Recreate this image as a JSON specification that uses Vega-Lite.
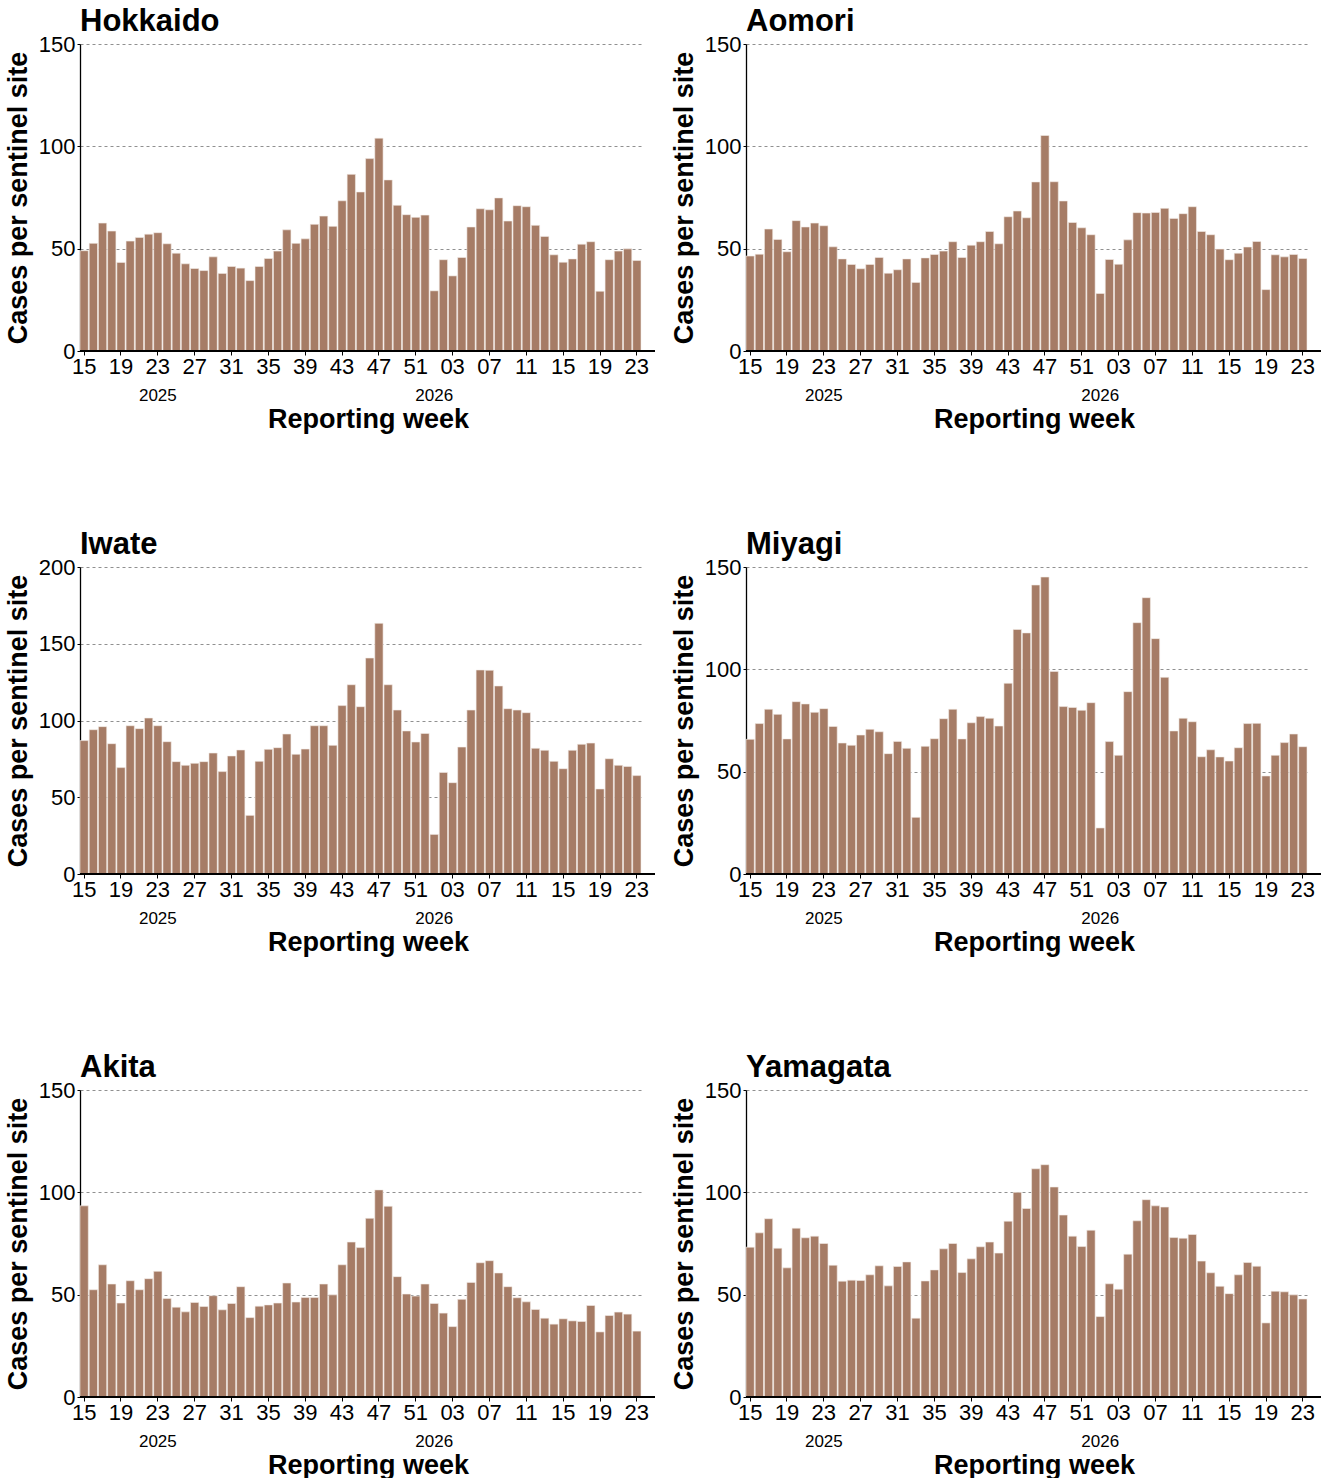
{
  "$schema": "https://vega.github.io/schema/vega-lite/v6.json",
  "background": "white",
  "padding": {"left": 4, "top": 6, "right": 5, "bottom": 0},
  "config": {
    "font": "Liberation Sans",
    "view": {"stroke": null},
    "axis": {"labelColor": "black", "titleColor": "black", "labelFont": "Liberation Sans", "titleFont": "Liberation Sans"},
    "title": {"anchor": "start", "frame": "group", "fontSize": 31, "fontWeight": "bold", "color": "black", "offset": -5, "font": "Liberation Sans"}
  },
  "datasets": {
    "hokkaido": [
      {"w":"2025-15","v":49.0},{"w":"2025-16","v":52.6},{"w":"2025-17","v":62.5},{"w":"2025-18","v":58.6},{"w":"2025-19","v":43.3},{"w":"2025-20","v":53.7},{"w":"2025-21","v":55.5},{"w":"2025-22","v":57.1},{"w":"2025-23","v":57.8},{"w":"2025-24","v":52.4},{"w":"2025-25","v":47.8},{"w":"2025-26","v":42.6},{"w":"2025-27","v":40.3},{"w":"2025-28","v":39.3},{"w":"2025-29","v":46.0},{"w":"2025-30","v":37.9},{"w":"2025-31","v":41.3},{"w":"2025-32","v":40.5},{"w":"2025-33","v":34.4},{"w":"2025-34","v":41.3},{"w":"2025-35","v":45.2},{"w":"2025-36","v":48.8},{"w":"2025-37","v":59.2},{"w":"2025-38","v":52.6},{"w":"2025-39","v":54.8},{"w":"2025-40","v":61.9},{"w":"2025-41","v":65.9},{"w":"2025-42","v":60.9},{"w":"2025-43","v":73.4},{"w":"2025-44","v":86.3},{"w":"2025-45","v":77.7},{"w":"2025-46","v":94.0},{"w":"2025-47","v":104.0},{"w":"2025-48","v":83.6},{"w":"2025-49","v":71.2},{"w":"2025-50","v":66.6},{"w":"2025-51","v":65.3},{"w":"2025-52","v":66.4},
      {"w":"2026-01","v":29.4},{"w":"2026-02","v":44.6},{"w":"2026-03","v":36.7},{"w":"2026-04","v":45.7},{"w":"2026-05","v":60.6},{"w":"2026-06","v":69.5},{"w":"2026-07","v":69.0},{"w":"2026-08","v":74.8},{"w":"2026-09","v":63.5},{"w":"2026-10","v":71.0},{"w":"2026-11","v":70.5},{"w":"2026-12","v":61.4},{"w":"2026-13","v":56.0},{"w":"2026-14","v":47.0},{"w":"2026-15","v":43.4},{"w":"2026-16","v":45.0},{"w":"2026-17","v":52.2},{"w":"2026-18","v":53.4},{"w":"2026-19","v":29.2},{"w":"2026-20","v":44.6},{"w":"2026-21","v":48.8},{"w":"2026-22","v":49.9},{"w":"2026-23","v":44.2}
    ],
    "aomori": [
      {"w":"2025-15","v":46.4},{"w":"2025-16","v":47.3},{"w":"2025-17","v":59.6},{"w":"2025-18","v":54.5},{"w":"2025-19","v":48.5},{"w":"2025-20","v":63.7},{"w":"2025-21","v":60.6},{"w":"2025-22","v":62.5},{"w":"2025-23","v":61.2},{"w":"2025-24","v":50.9},{"w":"2025-25","v":45.0},{"w":"2025-26","v":42.3},{"w":"2025-27","v":40.2},{"w":"2025-28","v":42.3},{"w":"2025-29","v":45.7},{"w":"2025-30","v":38.0},{"w":"2025-31","v":39.7},{"w":"2025-32","v":45.0},{"w":"2025-33","v":33.5},{"w":"2025-34","v":45.5},{"w":"2025-35","v":47.2},{"w":"2025-36","v":48.8},{"w":"2025-37","v":53.4},{"w":"2025-38","v":45.7},{"w":"2025-39","v":51.7},{"w":"2025-40","v":53.4},{"w":"2025-41","v":58.4},{"w":"2025-42","v":52.4},{"w":"2025-43","v":65.6},{"w":"2025-44","v":68.4},{"w":"2025-45","v":65.1},{"w":"2025-46","v":82.6},{"w":"2025-47","v":105.3},{"w":"2025-48","v":82.7},{"w":"2025-49","v":73.3},{"w":"2025-50","v":62.8},{"w":"2025-51","v":60.2},{"w":"2025-52","v":56.8},
      {"w":"2026-01","v":28.1},{"w":"2026-02","v":44.7},{"w":"2026-03","v":42.4},{"w":"2026-04","v":54.3},{"w":"2026-05","v":67.6},{"w":"2026-06","v":67.4},{"w":"2026-07","v":67.7},{"w":"2026-08","v":69.7},{"w":"2026-09","v":64.8},{"w":"2026-10","v":67.1},{"w":"2026-11","v":70.5},{"w":"2026-12","v":58.4},{"w":"2026-13","v":56.8},{"w":"2026-14","v":49.8},{"w":"2026-15","v":44.6},{"w":"2026-16","v":47.8},{"w":"2026-17","v":50.8},{"w":"2026-18","v":53.5},{"w":"2026-19","v":30.0},{"w":"2026-20","v":47.0},{"w":"2026-21","v":46.0},{"w":"2026-22","v":47.2},{"w":"2026-23","v":45.2}
    ],
    "iwate": [
      {"w":"2025-15","v":86.9},{"w":"2025-16","v":94.0},{"w":"2025-17","v":96.0},{"w":"2025-18","v":84.9},{"w":"2025-19","v":69.3},{"w":"2025-20","v":96.6},{"w":"2025-21","v":94.7},{"w":"2025-22","v":101.6},{"w":"2025-23","v":96.6},{"w":"2025-24","v":86.2},{"w":"2025-25","v":73.2},{"w":"2025-26","v":70.8},{"w":"2025-27","v":72.1},{"w":"2025-28","v":73.2},{"w":"2025-29","v":78.8},{"w":"2025-30","v":66.7},{"w":"2025-31","v":76.9},{"w":"2025-32","v":80.8},{"w":"2025-33","v":38.2},{"w":"2025-34","v":73.4},{"w":"2025-35","v":81.2},{"w":"2025-36","v":82.3},{"w":"2025-37","v":91.2},{"w":"2025-38","v":78.0},{"w":"2025-39","v":81.4},{"w":"2025-40","v":96.6},{"w":"2025-41","v":96.6},{"w":"2025-42","v":83.8},{"w":"2025-43","v":109.7},{"w":"2025-44","v":123.3},{"w":"2025-45","v":109.0},{"w":"2025-46","v":140.7},{"w":"2025-47","v":163.3},{"w":"2025-48","v":123.3},{"w":"2025-49","v":106.8},{"w":"2025-50","v":93.2},{"w":"2025-51","v":86.0},{"w":"2025-52","v":91.6},
      {"w":"2026-01","v":25.8},{"w":"2026-02","v":66.2},{"w":"2026-03","v":59.5},{"w":"2026-04","v":82.7},{"w":"2026-05","v":106.8},{"w":"2026-06","v":132.9},{"w":"2026-07","v":132.7},{"w":"2026-08","v":122.5},{"w":"2026-09","v":107.7},{"w":"2026-10","v":106.8},{"w":"2026-11","v":105.1},{"w":"2026-12","v":81.9},{"w":"2026-13","v":80.6},{"w":"2026-14","v":73.4},{"w":"2026-15","v":68.6},{"w":"2026-16","v":80.6},{"w":"2026-17","v":84.5},{"w":"2026-18","v":85.3},{"w":"2026-19","v":55.4},{"w":"2026-20","v":75.1},{"w":"2026-21","v":70.8},{"w":"2026-22","v":70.1},{"w":"2026-23","v":64.1}
    ],
    "miyagi": [
      {"w":"2025-15","v":65.8},{"w":"2025-16","v":73.5},{"w":"2025-17","v":80.5},{"w":"2025-18","v":78.0},{"w":"2025-19","v":66.0},{"w":"2025-20","v":84.2},{"w":"2025-21","v":83.1},{"w":"2025-22","v":79.0},{"w":"2025-23","v":80.8},{"w":"2025-24","v":72.1},{"w":"2025-25","v":64.0},{"w":"2025-26","v":62.9},{"w":"2025-27","v":67.9},{"w":"2025-28","v":70.7},{"w":"2025-29","v":69.5},{"w":"2025-30","v":58.8},{"w":"2025-31","v":64.8},{"w":"2025-32","v":61.4},{"w":"2025-33","v":27.7},{"w":"2025-34","v":62.4},{"w":"2025-35","v":66.1},{"w":"2025-36","v":75.9},{"w":"2025-37","v":80.5},{"w":"2025-38","v":66.0},{"w":"2025-39","v":73.9},{"w":"2025-40","v":76.9},{"w":"2025-41","v":76.1},{"w":"2025-42","v":72.3},{"w":"2025-43","v":93.2},{"w":"2025-44","v":119.5},{"w":"2025-45","v":117.8},{"w":"2025-46","v":141.2},{"w":"2025-47","v":145.1},{"w":"2025-48","v":99.0},{"w":"2025-49","v":81.8},{"w":"2025-50","v":81.4},{"w":"2025-51","v":80.0},{"w":"2025-52","v":83.7},
      {"w":"2026-01","v":22.5},{"w":"2026-02","v":64.7},{"w":"2026-03","v":58.0},{"w":"2026-04","v":89.1},{"w":"2026-05","v":122.8},{"w":"2026-06","v":135.0},{"w":"2026-07","v":115.0},{"w":"2026-08","v":96.1},{"w":"2026-09","v":69.9},{"w":"2026-10","v":76.1},{"w":"2026-11","v":74.4},{"w":"2026-12","v":57.3},{"w":"2026-13","v":60.7},{"w":"2026-14","v":57.2},{"w":"2026-15","v":55.2},{"w":"2026-16","v":61.7},{"w":"2026-17","v":73.5},{"w":"2026-18","v":73.6},{"w":"2026-19","v":47.9},{"w":"2026-20","v":58.0},{"w":"2026-21","v":64.2},{"w":"2026-22","v":68.4},{"w":"2026-23","v":62.2}
    ],
    "akita": [
      {"w":"2025-15","v":93.4},{"w":"2025-16","v":52.4},{"w":"2025-17","v":64.6},{"w":"2025-18","v":55.2},{"w":"2025-19","v":45.9},{"w":"2025-20","v":56.8},{"w":"2025-21","v":52.4},{"w":"2025-22","v":57.8},{"w":"2025-23","v":61.4},{"w":"2025-24","v":48.1},{"w":"2025-25","v":43.9},{"w":"2025-26","v":41.6},{"w":"2025-27","v":46.2},{"w":"2025-28","v":44.2},{"w":"2025-29","v":49.5},{"w":"2025-30","v":42.6},{"w":"2025-31","v":45.7},{"w":"2025-32","v":53.9},{"w":"2025-33","v":38.8},{"w":"2025-34","v":44.4},{"w":"2025-35","v":45.0},{"w":"2025-36","v":45.9},{"w":"2025-37","v":55.7},{"w":"2025-38","v":46.4},{"w":"2025-39","v":48.6},{"w":"2025-40","v":48.6},{"w":"2025-41","v":55.2},{"w":"2025-42","v":49.9},{"w":"2025-43","v":64.6},{"w":"2025-44","v":75.7},{"w":"2025-45","v":73.0},{"w":"2025-46","v":87.3},{"w":"2025-47","v":101.2},{"w":"2025-48","v":93.2},{"w":"2025-49","v":58.8},{"w":"2025-50","v":50.3},{"w":"2025-51","v":49.3},{"w":"2025-52","v":55.2},
      {"w":"2026-01","v":45.7},{"w":"2026-02","v":41.0},{"w":"2026-03","v":34.4},{"w":"2026-04","v":47.7},{"w":"2026-05","v":56.0},{"w":"2026-06","v":65.6},{"w":"2026-07","v":66.6},{"w":"2026-08","v":60.6},{"w":"2026-09","v":53.9},{"w":"2026-10","v":48.5},{"w":"2026-11","v":46.5},{"w":"2026-12","v":42.8},{"w":"2026-13","v":38.5},{"w":"2026-14","v":35.6},{"w":"2026-15","v":38.2},{"w":"2026-16","v":37.2},{"w":"2026-17","v":36.9},{"w":"2026-18","v":44.7},{"w":"2026-19","v":31.8},{"w":"2026-20","v":39.8},{"w":"2026-21","v":41.5},{"w":"2026-22","v":40.5},{"w":"2026-23","v":32.2}
    ],
    "yamagata": [
      {"w":"2025-15","v":73.2},{"w":"2025-16","v":80.2},{"w":"2025-17","v":87.1},{"w":"2025-18","v":72.7},{"w":"2025-19","v":63.1},{"w":"2025-20","v":82.5},{"w":"2025-21","v":77.8},{"w":"2025-22","v":78.6},{"w":"2025-23","v":75.0},{"w":"2025-24","v":64.4},{"w":"2025-25","v":56.6},{"w":"2025-26","v":57.1},{"w":"2025-27","v":56.9},{"w":"2025-28","v":59.7},{"w":"2025-29","v":64.1},{"w":"2025-30","v":54.3},{"w":"2025-31","v":63.8},{"w":"2025-32","v":66.0},{"w":"2025-33","v":38.5},{"w":"2025-34","v":56.7},{"w":"2025-35","v":62.1},{"w":"2025-36","v":72.4},{"w":"2025-37","v":75.0},{"w":"2025-38","v":60.8},{"w":"2025-39","v":67.5},{"w":"2025-40","v":73.4},{"w":"2025-41","v":75.7},{"w":"2025-42","v":70.3},{"w":"2025-43","v":85.9},{"w":"2025-44","v":100.0},{"w":"2025-45","v":92.1},{"w":"2025-46","v":111.5},{"w":"2025-47","v":113.5},{"w":"2025-48","v":102.6},{"w":"2025-49","v":88.9},{"w":"2025-50","v":78.6},{"w":"2025-51","v":73.5},{"w":"2025-52","v":81.5},
      {"w":"2026-01","v":39.3},{"w":"2026-02","v":55.3},{"w":"2026-03","v":52.7},{"w":"2026-04","v":69.8},{"w":"2026-05","v":86.1},{"w":"2026-06","v":96.4},{"w":"2026-07","v":93.4},{"w":"2026-08","v":92.8},{"w":"2026-09","v":77.9},{"w":"2026-10","v":77.6},{"w":"2026-11","v":79.4},{"w":"2026-12","v":66.4},{"w":"2026-13","v":60.7},{"w":"2026-14","v":54.1},{"w":"2026-15","v":50.5},{"w":"2026-16","v":59.7},{"w":"2026-17","v":65.7},{"w":"2026-18","v":63.9},{"w":"2026-19","v":36.2},{"w":"2026-20","v":51.7},{"w":"2026-21","v":51.4},{"w":"2026-22","v":49.9},{"w":"2026-23","v":47.9}
    ]
  },
  "columns": 2,
  "spacing": {"row": 97, "column": 14},
  "concat": [
    {
      "width": 575, "height": 307,
      "title": {"text": "Hokkaido"},
      "data": {"name": "hokkaido"},
      "resolve": {"axis": {"x": "independent"}},
      "layer": [
        {"mark": {"type": "bar", "color": "#A67C66", "stroke": "#f4ece7", "strokeWidth": 0.6},
         "encoding": {
           "x": {"field": "w", "type": "ordinal", "scale": {"range": [0, 561], "paddingInner": 0.1, "paddingOuter": 0},
                 "axis": {"orient": "bottom", "values": ["2025-15","2025-19","2025-23","2025-27","2025-31","2025-35","2025-39","2025-43","2025-47","2025-51","2026-03","2026-07","2026-11","2026-15","2026-19","2026-23"], "labelExpr": "substring(datum.value, 5)", "labelAngle": 0, "labelFontSize": 22, "labelPadding": 1, "tickSize": 4, "tickColor": "black", "domain": false, "grid": false, "title": null}},
           "y": {"field": "v", "type": "quantitative", "scale": {"domain": [0, 150], "nice": false},
                 "axis": {"values": [0, 50, 100, 150], "title": "Cases per sentinel site", "titleFontSize": 27, "titleFontWeight": "bold", "titlePadding": 6, "labelFontSize": 22, "labelPadding": 2, "tickSize": 3, "tickColor": "black", "domainColor": "black", "domainWidth": 1.3, "grid": true, "gridDash": [3, 3], "gridColor": "#909090", "gridWidth": 1}}
         }},
        {"mark": {"type": "bar", "opacity": 0},
         "encoding": {
           "x": {"field": "w", "type": "ordinal",
                 "axis": {"orient": "bottom", "values": ["2025-23", "2026-01"], "labelExpr": "substring(datum.value, 0, 4)", "labelAngle": 0, "labelFontSize": 17, "ticks": false, "domain": false, "grid": false, "offset": 36, "labelPadding": 0, "title": "Reporting week", "titleX": 288, "titleFontSize": 27, "titleFontWeight": "bold", "titlePadding": 3}},
           "y": {"field": "v", "type": "quantitative"}
         }},
        {"mark": {"type": "rule", "color": "black", "strokeWidth": 1.3}, "encoding": {"y": {"datum": 0, "type": "quantitative"}}}
      ]
    },
    {
      "width": 575, "height": 307,
      "title": {"text": "Aomori"},
      "data": {"name": "aomori"},
      "resolve": {"axis": {"x": "independent"}},
      "layer": [
        {"mark": {"type": "bar", "color": "#A67C66", "stroke": "#f4ece7", "strokeWidth": 0.6},
         "encoding": {
           "x": {"field": "w", "type": "ordinal", "scale": {"range": [0, 561], "paddingInner": 0.1, "paddingOuter": 0},
                 "axis": {"orient": "bottom", "values": ["2025-15","2025-19","2025-23","2025-27","2025-31","2025-35","2025-39","2025-43","2025-47","2025-51","2026-03","2026-07","2026-11","2026-15","2026-19","2026-23"], "labelExpr": "substring(datum.value, 5)", "labelAngle": 0, "labelFontSize": 22, "labelPadding": 1, "tickSize": 4, "tickColor": "black", "domain": false, "grid": false, "title": null}},
           "y": {"field": "v", "type": "quantitative", "scale": {"domain": [0, 150], "nice": false},
                 "axis": {"values": [0, 50, 100, 150], "title": "Cases per sentinel site", "titleFontSize": 27, "titleFontWeight": "bold", "titlePadding": 6, "labelFontSize": 22, "labelPadding": 2, "tickSize": 3, "tickColor": "black", "domainColor": "black", "domainWidth": 1.3, "grid": true, "gridDash": [3, 3], "gridColor": "#909090", "gridWidth": 1}}
         }},
        {"mark": {"type": "bar", "opacity": 0},
         "encoding": {
           "x": {"field": "w", "type": "ordinal",
                 "axis": {"orient": "bottom", "values": ["2025-23", "2026-01"], "labelExpr": "substring(datum.value, 0, 4)", "labelAngle": 0, "labelFontSize": 17, "ticks": false, "domain": false, "grid": false, "offset": 36, "labelPadding": 0, "title": "Reporting week", "titleX": 288, "titleFontSize": 27, "titleFontWeight": "bold", "titlePadding": 3}},
           "y": {"field": "v", "type": "quantitative"}
         }},
        {"mark": {"type": "rule", "color": "black", "strokeWidth": 1.3}, "encoding": {"y": {"datum": 0, "type": "quantitative"}}}
      ]
    },
    {
      "width": 575, "height": 307,
      "title": {"text": "Iwate"},
      "data": {"name": "iwate"},
      "resolve": {"axis": {"x": "independent"}},
      "layer": [
        {"mark": {"type": "bar", "color": "#A67C66", "stroke": "#f4ece7", "strokeWidth": 0.6},
         "encoding": {
           "x": {"field": "w", "type": "ordinal", "scale": {"range": [0, 561], "paddingInner": 0.1, "paddingOuter": 0},
                 "axis": {"orient": "bottom", "values": ["2025-15","2025-19","2025-23","2025-27","2025-31","2025-35","2025-39","2025-43","2025-47","2025-51","2026-03","2026-07","2026-11","2026-15","2026-19","2026-23"], "labelExpr": "substring(datum.value, 5)", "labelAngle": 0, "labelFontSize": 22, "labelPadding": 1, "tickSize": 4, "tickColor": "black", "domain": false, "grid": false, "title": null}},
           "y": {"field": "v", "type": "quantitative", "scale": {"domain": [0, 200], "nice": false},
                 "axis": {"values": [0, 50, 100, 150, 200], "title": "Cases per sentinel site", "titleFontSize": 27, "titleFontWeight": "bold", "titlePadding": 6, "labelFontSize": 22, "labelPadding": 2, "tickSize": 3, "tickColor": "black", "domainColor": "black", "domainWidth": 1.3, "grid": true, "gridDash": [3, 3], "gridColor": "#909090", "gridWidth": 1}}
         }},
        {"mark": {"type": "bar", "opacity": 0},
         "encoding": {
           "x": {"field": "w", "type": "ordinal",
                 "axis": {"orient": "bottom", "values": ["2025-23", "2026-01"], "labelExpr": "substring(datum.value, 0, 4)", "labelAngle": 0, "labelFontSize": 17, "ticks": false, "domain": false, "grid": false, "offset": 36, "labelPadding": 0, "title": "Reporting week", "titleX": 288, "titleFontSize": 27, "titleFontWeight": "bold", "titlePadding": 3}},
           "y": {"field": "v", "type": "quantitative"}
         }},
        {"mark": {"type": "rule", "color": "black", "strokeWidth": 1.3}, "encoding": {"y": {"datum": 0, "type": "quantitative"}}}
      ]
    },
    {
      "width": 575, "height": 307,
      "title": {"text": "Miyagi"},
      "data": {"name": "miyagi"},
      "resolve": {"axis": {"x": "independent"}},
      "layer": [
        {"mark": {"type": "bar", "color": "#A67C66", "stroke": "#f4ece7", "strokeWidth": 0.6},
         "encoding": {
           "x": {"field": "w", "type": "ordinal", "scale": {"range": [0, 561], "paddingInner": 0.1, "paddingOuter": 0},
                 "axis": {"orient": "bottom", "values": ["2025-15","2025-19","2025-23","2025-27","2025-31","2025-35","2025-39","2025-43","2025-47","2025-51","2026-03","2026-07","2026-11","2026-15","2026-19","2026-23"], "labelExpr": "substring(datum.value, 5)", "labelAngle": 0, "labelFontSize": 22, "labelPadding": 1, "tickSize": 4, "tickColor": "black", "domain": false, "grid": false, "title": null}},
           "y": {"field": "v", "type": "quantitative", "scale": {"domain": [0, 150], "nice": false},
                 "axis": {"values": [0, 50, 100, 150], "title": "Cases per sentinel site", "titleFontSize": 27, "titleFontWeight": "bold", "titlePadding": 6, "labelFontSize": 22, "labelPadding": 2, "tickSize": 3, "tickColor": "black", "domainColor": "black", "domainWidth": 1.3, "grid": true, "gridDash": [3, 3], "gridColor": "#909090", "gridWidth": 1}}
         }},
        {"mark": {"type": "bar", "opacity": 0},
         "encoding": {
           "x": {"field": "w", "type": "ordinal",
                 "axis": {"orient": "bottom", "values": ["2025-23", "2026-01"], "labelExpr": "substring(datum.value, 0, 4)", "labelAngle": 0, "labelFontSize": 17, "ticks": false, "domain": false, "grid": false, "offset": 36, "labelPadding": 0, "title": "Reporting week", "titleX": 288, "titleFontSize": 27, "titleFontWeight": "bold", "titlePadding": 3}},
           "y": {"field": "v", "type": "quantitative"}
         }},
        {"mark": {"type": "rule", "color": "black", "strokeWidth": 1.3}, "encoding": {"y": {"datum": 0, "type": "quantitative"}}}
      ]
    },
    {
      "width": 575, "height": 307,
      "title": {"text": "Akita"},
      "data": {"name": "akita"},
      "resolve": {"axis": {"x": "independent"}},
      "layer": [
        {"mark": {"type": "bar", "color": "#A67C66", "stroke": "#f4ece7", "strokeWidth": 0.6},
         "encoding": {
           "x": {"field": "w", "type": "ordinal", "scale": {"range": [0, 561], "paddingInner": 0.1, "paddingOuter": 0},
                 "axis": {"orient": "bottom", "values": ["2025-15","2025-19","2025-23","2025-27","2025-31","2025-35","2025-39","2025-43","2025-47","2025-51","2026-03","2026-07","2026-11","2026-15","2026-19","2026-23"], "labelExpr": "substring(datum.value, 5)", "labelAngle": 0, "labelFontSize": 22, "labelPadding": 1, "tickSize": 4, "tickColor": "black", "domain": false, "grid": false, "title": null}},
           "y": {"field": "v", "type": "quantitative", "scale": {"domain": [0, 150], "nice": false},
                 "axis": {"values": [0, 50, 100, 150], "title": "Cases per sentinel site", "titleFontSize": 27, "titleFontWeight": "bold", "titlePadding": 6, "labelFontSize": 22, "labelPadding": 2, "tickSize": 3, "tickColor": "black", "domainColor": "black", "domainWidth": 1.3, "grid": true, "gridDash": [3, 3], "gridColor": "#909090", "gridWidth": 1}}
         }},
        {"mark": {"type": "bar", "opacity": 0},
         "encoding": {
           "x": {"field": "w", "type": "ordinal",
                 "axis": {"orient": "bottom", "values": ["2025-23", "2026-01"], "labelExpr": "substring(datum.value, 0, 4)", "labelAngle": 0, "labelFontSize": 17, "ticks": false, "domain": false, "grid": false, "offset": 36, "labelPadding": 0, "title": "Reporting week", "titleX": 288, "titleFontSize": 27, "titleFontWeight": "bold", "titlePadding": 3}},
           "y": {"field": "v", "type": "quantitative"}
         }},
        {"mark": {"type": "rule", "color": "black", "strokeWidth": 1.3}, "encoding": {"y": {"datum": 0, "type": "quantitative"}}}
      ]
    },
    {
      "width": 575, "height": 307,
      "title": {"text": "Yamagata"},
      "data": {"name": "yamagata"},
      "resolve": {"axis": {"x": "independent"}},
      "layer": [
        {"mark": {"type": "bar", "color": "#A67C66", "stroke": "#f4ece7", "strokeWidth": 0.6},
         "encoding": {
           "x": {"field": "w", "type": "ordinal", "scale": {"range": [0, 561], "paddingInner": 0.1, "paddingOuter": 0},
                 "axis": {"orient": "bottom", "values": ["2025-15","2025-19","2025-23","2025-27","2025-31","2025-35","2025-39","2025-43","2025-47","2025-51","2026-03","2026-07","2026-11","2026-15","2026-19","2026-23"], "labelExpr": "substring(datum.value, 5)", "labelAngle": 0, "labelFontSize": 22, "labelPadding": 1, "tickSize": 4, "tickColor": "black", "domain": false, "grid": false, "title": null}},
           "y": {"field": "v", "type": "quantitative", "scale": {"domain": [0, 150], "nice": false},
                 "axis": {"values": [0, 50, 100, 150], "title": "Cases per sentinel site", "titleFontSize": 27, "titleFontWeight": "bold", "titlePadding": 6, "labelFontSize": 22, "labelPadding": 2, "tickSize": 3, "tickColor": "black", "domainColor": "black", "domainWidth": 1.3, "grid": true, "gridDash": [3, 3], "gridColor": "#909090", "gridWidth": 1}}
         }},
        {"mark": {"type": "bar", "opacity": 0},
         "encoding": {
           "x": {"field": "w", "type": "ordinal",
                 "axis": {"orient": "bottom", "values": ["2025-23", "2026-01"], "labelExpr": "substring(datum.value, 0, 4)", "labelAngle": 0, "labelFontSize": 17, "ticks": false, "domain": false, "grid": false, "offset": 36, "labelPadding": 0, "title": "Reporting week", "titleX": 288, "titleFontSize": 27, "titleFontWeight": "bold", "titlePadding": 3}},
           "y": {"field": "v", "type": "quantitative"}
         }},
        {"mark": {"type": "rule", "color": "black", "strokeWidth": 1.3}, "encoding": {"y": {"datum": 0, "type": "quantitative"}}}
      ]
    }
  ]
}
